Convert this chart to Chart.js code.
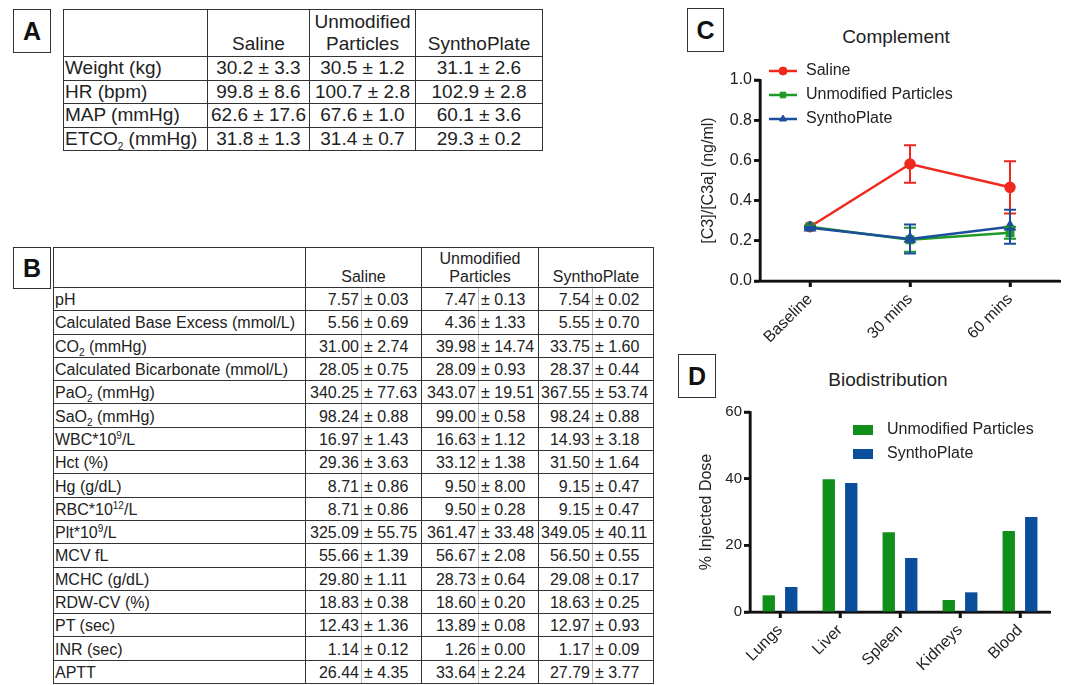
<!DOCTYPE html>
<html>
<head>
<meta charset="utf-8">
<script src="https://cdn.jsdelivr.net/npm/chart.js@4.4.0/dist/chart.umd.min.js"></script>
<style>
body { margin: 0; background: #fff; font-family: "Liberation Sans", Arial, sans-serif; color: #222; }
#page { position: relative; width: 1068px; height: 685px; overflow: hidden; }
.tag { position: absolute; box-sizing: border-box; border: 1.5px solid #333; font-weight: bold; font-size: 25px;
       display: flex; align-items: center; justify-content: center; color: #111; }
.ttl { position: absolute; font-size: 19px; transform: translate(-50%, -50%); white-space: nowrap; }
table { position: absolute; border-collapse: collapse; table-layout: fixed; }
td { border: 1.5px solid #333; padding: 0; white-space: nowrap; overflow: hidden; }
td sub, td sup { font-size: 10px; line-height: 0; }
#tabA { left: 63px; top: 9px; font-size: 19px; }
#tabA td { height: 22.5px; text-align: center; }
#tabA td.lab { text-align: left; padding-left: 1px; }
#tabA tr.head td { height: 45px; vertical-align: bottom; line-height: 22px; padding-bottom: 1px; }
#tabB { left: 53px; top: 247px; font-size: 16px; }
#tabB td { height: 23.3px; padding-top: 2px; box-sizing: border-box; }
#tabB td.lab { text-align: left; padding-left: 1px; }
#tabB td.v { text-align: right; padding-right: 2px; border-right: 1px solid #bbb; }
#tabB td.e { text-align: left; padding-left: 2px; border-left: 1px solid #bbb; }
#tabB tr.head td { height: 39px; vertical-align: bottom; text-align: center; line-height: 18px; padding-bottom: 1px; }
canvas { position: absolute; }
</style>
</head>
<body>
<div id="page">
  <div class="tag" style="left:13px;top:9px;width:38px;height:44px;">A</div>
  <div class="tag" style="left:13px;top:247px;width:38px;height:42px;">B</div>
  <div class="tag" style="left:687px;top:8px;width:37px;height:44px;">C</div>
  <div class="tag" style="left:678px;top:354px;width:38px;height:44px;">D</div>
  <table id="tabA"></table>
  <table id="tabB"></table>
  <div class="ttl" style="left:896px;top:37px;">Complement</div>
  <div class="ttl" style="left:888px;top:380px;">Biodistribution</div>
  <canvas id="chartC" width="388" height="290" style="left:680px;top:60px;"></canvas>
  <canvas id="chartD" width="388" height="290" style="left:680px;top:395px;"></canvas>
</div>
<script>
// table A
const groups = ["Saline", "Unmodified<br>Particles", "SynthoPlate"];
const paramsA = ["Weight (kg)", "HR (bpm)", "MAP (mmHg)", "ETCO<sub>2</sub> (mmHg)"];
const salineA = ["30.2 ± 3.3", "99.8 ± 8.6", "62.6 ± 17.6", "31.8 ± 1.3"];
const unmodA = ["30.5 ± 1.2", "100.7 ± 2.8", "67.6 ± 1.0", "31.4 ± 0.7"];
const synthA = ["31.1 ± 2.6", "102.9 ± 2.8", "60.1 ± 3.6", "29.3 ± 0.2"];

// table B
const paramsB = ["pH", "Calculated Base Excess (mmol/L)", "CO<sub>2</sub> (mmHg)", "Calculated Bicarbonate (mmol/L)",
  "PaO<sub>2</sub> (mmHg)", "SaO<sub>2</sub> (mmHg)", "WBC*10<sup>9</sup>/L", "Hct (%)", "Hg (g/dL)",
  "RBC*10<sup>12</sup>/L", "Plt*10<sup>9</sup>/L", "MCV fL", "MCHC (g/dL)", "RDW-CV (%)", "PT (sec)", "INR (sec)", "APTT"];
const salineB = ["7.57 ± 0.03", "5.56 ± 0.69", "31.00 ± 2.74", "28.05 ± 0.75", "340.25 ± 77.63", "98.24 ± 0.88",
  "16.97 ± 1.43", "29.36 ± 3.63", "8.71 ± 0.86", "8.71 ± 0.86", "325.09 ± 55.75", "55.66 ± 1.39", "29.80 ± 1.11",
  "18.83 ± 0.38", "12.43 ± 1.36", "1.14 ± 0.12", "26.44 ± 4.35"];
const unmodB = ["7.47 ± 0.13", "4.36 ± 1.33", "39.98 ± 14.74", "28.09 ± 0.93", "343.07 ± 19.51", "99.00 ± 0.58",
  "16.63 ± 1.12", "33.12 ± 1.38", "9.50 ± 8.00", "9.50 ± 0.28", "361.47 ± 33.48", "56.67 ± 2.08", "28.73 ± 0.64",
  "18.60 ± 0.20", "13.89 ± 0.08", "1.26 ± 0.00", "33.64 ± 2.24"];
const synthB = ["7.54 ± 0.02", "5.55 ± 0.70", "33.75 ± 1.60", "28.37 ± 0.44", "367.55 ± 53.74", "98.24 ± 0.88",
  "14.93 ± 3.18", "31.50 ± 1.64", "9.15 ± 0.47", "9.15 ± 0.47", "349.05 ± 40.11", "56.50 ± 0.55", "29.08 ± 0.17",
  "18.63 ± 0.25", "12.97 ± 0.93", "1.17 ± 0.09", "27.79 ± 3.77"];

// chart C
const timeLabels = ["Baseline", "30 mins", "60 mins"];
const salineC = [0.27, 0.582, 0.466];
const salineErr = [0.005, 0.093, 0.13];
const unmodC = [0.27, 0.205, 0.24];
const unmodErr = [0.005, 0.06, 0.03];
const synthC = [0.265, 0.209, 0.27];
const synthErr = [0.005, 0.072, 0.085];

// chart D
const organs = ["Lungs", "Liver", "Spleen", "Kidneys", "Blood"];
const unmodD = [5.0, 39.8, 23.9, 3.6, 24.3];
const synthD = [7.5, 38.7, 16.2, 5.9, 28.5];

let html = '<colgroup><col style="width:144px"><col style="width:102px"><col style="width:106px"><col style="width:127px"></colgroup>';
html += '<tr class="head"><td></td>' + groups.map(g => `<td>${g}</td>`).join('') + '</tr>';
for (let i = 0; i < paramsA.length; i++) {
  html += `<tr><td class="lab">${paramsA[i]}</td><td>${salineA[i]}</td><td>${unmodA[i]}</td><td>${synthA[i]}</td></tr>`;
}
document.getElementById('tabA').innerHTML = html;

function split(s) {
  let p = s.split(' ± ');
  return `<td class="v">${p[0]}</td><td class="e">± ${p[1]}</td>`;
}
html = '<colgroup><col style="width:252px"><col style="width:56px"><col style="width:60px"><col style="width:57px"><col style="width:60px"><col style="width:54px"><col style="width:61px"></colgroup>';
html += '<tr class="head"><td></td>' + groups.map(g => `<td colspan="2">${g}</td>`).join('') + '</tr>';
for (let i = 0; i < paramsB.length; i++) {
  html += `<tr><td class="lab">${paramsB[i]}</td>${split(salineB[i])}${split(unmodB[i])}${split(synthB[i])}</tr>`;
}
document.getElementById('tabB').innerHTML = html;

Chart.defaults.font.family = '"Liberation Sans", Arial, sans-serif';
Chart.defaults.color = '#222';

const errorBars = {
  id: 'errorBars',
  afterDatasetsDraw(chart) {
    const ctx = chart.ctx;
    const y = chart.scales.y;
    chart.data.datasets.forEach((ds, i) => {
      if (!ds.errors) return;
      const meta = chart.getDatasetMeta(i);
      ctx.save();
      ctx.strokeStyle = ds.borderColor;
      ctx.lineWidth = 2;
      meta.data.forEach((pt, j) => {
        const top = y.getPixelForValue(ds.data[j] + ds.errors[j]);
        const bot = y.getPixelForValue(ds.data[j] - ds.errors[j]);
        ctx.beginPath();
        ctx.moveTo(pt.x, top); ctx.lineTo(pt.x, bot);
        ctx.moveTo(pt.x - 6, top); ctx.lineTo(pt.x + 6, top);
        ctx.moveTo(pt.x - 6, bot); ctx.lineTo(pt.x + 6, bot);
        ctx.stroke();
      });
      ctx.restore();
    });
  }
};

// heavy black axes with tick marks, taken from the scales
const axisLines = {
  id: 'axisLines',
  beforeDatasetsDraw(chart) {
    const {ctx, chartArea} = chart;
    const xs = chart.scales.x, ys = chart.scales.y;
    ctx.save();
    ctx.strokeStyle = '#111';
    ctx.lineWidth = 2.5;
    ctx.beginPath();
    ctx.moveTo(chartArea.left, chartArea.top);
    ctx.lineTo(chartArea.left, chartArea.bottom);
    ctx.lineTo(chartArea.right, chartArea.bottom);
    xs.ticks.forEach((t, i) => {
      const px = xs.getPixelForTick(i);
      ctx.moveTo(px, chartArea.bottom);
      ctx.lineTo(px, chartArea.bottom + 6);
    });
    ys.ticks.forEach((t, i) => {
      const py = ys.getPixelForTick(i);
      ctx.moveTo(chartArea.left, py);
      ctx.lineTo(chartArea.left - 6, py);
    });
    ctx.stroke();
    ctx.restore();
  }
};

// legend drawn inside the plot area
const innerLegend = {
  id: 'innerLegend',
  afterDraw(chart, args, opts) {
    const {ctx, chartArea} = chart;
    ctx.save();
    ctx.font = '16px "Liberation Sans", Arial, sans-serif';
    ctx.textBaseline = 'middle';
    chart.data.datasets.forEach((ds, i) => {
      const x = chartArea.left + opts.x;
      const y = chartArea.top + opts.y + i * opts.step;
      if (opts.kind === 'line') {
        ctx.strokeStyle = ds.borderColor;
        ctx.lineWidth = 2.5;
        ctx.beginPath(); ctx.moveTo(x, y); ctx.lineTo(x + 28, y); ctx.stroke();
        ctx.fillStyle = ds.backgroundColor;
        ctx.lineWidth = 1;
        Chart.helpers.drawPoint(ctx, {pointStyle: ds.pointStyle, radius: 4, borderWidth: 1, rotation: 0}, x + 14, y);
      } else {
        ctx.fillStyle = ds.backgroundColor;
        ctx.fillRect(x, y - 5, 20, 10);
      }
      ctx.fillStyle = '#222';
      ctx.fillText(ds.label, x + opts.textDx, y);
    });
    ctx.restore();
  }
};

function axisStyle() {
  return {
    border: {display: true, color: '#111', width: 2.5},
    grid: {display: true, drawOnChartArea: false, drawTicks: true, tickLength: 6,
           tickColor: '#111', tickWidth: 2.5, offset: false}
  };
}

new Chart(document.getElementById('chartC'), {
  type: 'line',
  data: {
    labels: timeLabels,
    datasets: [
      {label: 'Saline', data: salineC, errors: salineErr, borderColor: '#f0281e', backgroundColor: '#f0281e',
       pointStyle: 'circle', pointRadius: 4.5, borderWidth: 2.5, order: 3},
      {label: 'Unmodified Particles', data: unmodC, errors: unmodErr, borderColor: '#1f9a26', backgroundColor: '#1f9a26',
       pointStyle: 'rect', pointRadius: 4.5, borderWidth: 2.5, order: 2},
      {label: 'SynthoPlate', data: synthC, errors: synthErr, borderColor: '#1b4f9c', backgroundColor: '#1b4f9c',
       pointStyle: 'triangle', pointRadius: 5, borderWidth: 2.5, order: 1}
    ]
  },
  options: {
    responsive: false,
    animation: false,
    layout: {padding: {top: 20, right: 8, left: 0, bottom: 0}},
    plugins: {
      legend: {display: false},
      tooltip: {enabled: false},
      innerLegend: {kind: 'line', x: 9, y: -9, step: 24, textDx: 37}
    },
    scales: {
      x: Object.assign(axisStyle(), {
        offset: true,
        ticks: {minRotation: 45, maxRotation: 45, font: {size: 16}, padding: 3},
        afterFit: s => { s.height = 69; }
      }),
      y: Object.assign(axisStyle(), {
        min: 0, max: 1,
        ticks: {stepSize: 0.2, font: {size: 16}, padding: 2, callback: v => v.toFixed(1)},
        title: {display: true, text: '[C3]/[C3a] (ng/ml)', font: {size: 16}, padding: {top: 19, bottom: 0}},
        afterFit: s => { s.width = 80; }
      })
    }
  },
  plugins: [axisLines, errorBars, innerLegend]
});

new Chart(document.getElementById('chartD'), {
  type: 'bar',
  data: {
    labels: organs,
    datasets: [
      {label: 'Unmodified Particles', data: unmodD, backgroundColor: '#10901a'},
      {label: 'SynthoPlate', data: synthD, backgroundColor: '#0b4f9c'}
    ]
  },
  options: {
    responsive: false,
    animation: false,
    layout: {padding: {top: 17, right: 18, left: 0, bottom: 0}},
    datasets: {bar: {categoryPercentage: 0.75, barPercentage: 0.55}},
    plugins: {
      legend: {display: false},
      tooltip: {enabled: false},
      innerLegend: {kind: 'box', x: 103, y: 18, step: 24, textDx: 34}
    },
    scales: {
      x: Object.assign(axisStyle(), {
        ticks: {minRotation: 45, maxRotation: 45, font: {size: 16}, padding: 3},
        afterFit: s => { s.height = 73; }
      }),
      y: Object.assign(axisStyle(), {
        min: 0, max: 60,
        ticks: {stepSize: 20, font: {size: 15}, padding: 2},
        title: {display: true, text: '% Injected Dose', font: {size: 16}, padding: {top: 17, bottom: 0}},
        afterFit: s => { s.width = 70; }
      })
    }
  },
  plugins: [axisLines, innerLegend]
});
</script>
</body>
</html>
